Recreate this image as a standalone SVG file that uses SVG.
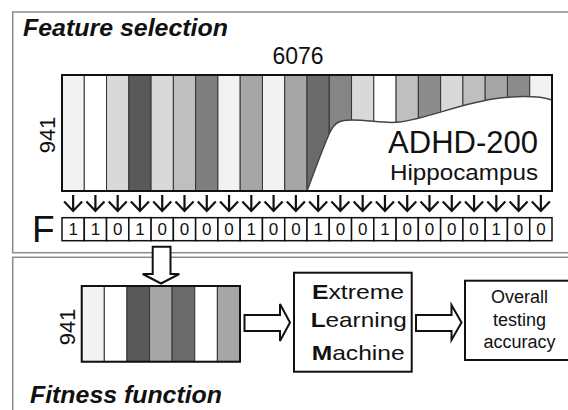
<svg xmlns="http://www.w3.org/2000/svg" width="568" height="410" viewBox="0 0 568 410">
<style>
text{font-family:"Liberation Sans",Arial,sans-serif;fill:#111}
.title{font-weight:bold;font-style:italic;font-size:23px}
.panel{fill:none;stroke:#8a8a8a;stroke-width:1.5}
.col{stroke:#333;stroke-width:1}
.frame{fill:none;stroke:#111;stroke-width:2}
.cell{fill:#fff;stroke:#111;stroke-width:1.5}
.bit{font-size:17px;text-anchor:middle}
.dn{fill:none;stroke:#111;stroke-width:2.2}
.blk{fill:#fff;stroke:#111;stroke-width:2;stroke-linejoin:miter}
.box{fill:#fff;stroke:#111;stroke-width:2}
.elm{font-size:21px}
.acc{font-size:18px;text-anchor:middle}
</style>
<defs>
<path id="dnArrow" class="dn" d="M0,195 V211 M-9,201.5 L0,211 L9,201.5"/>
</defs>
<rect class="panel" x="12.7" y="12" width="570" height="240.7"/>
<rect class="panel" x="12.7" y="257.3" width="570" height="170"/>
<text class="title" x="23" y="36" textLength="205" lengthAdjust="spacingAndGlyphs">Feature selection</text>
<text class="title" x="30" y="403" textLength="192" lengthAdjust="spacingAndGlyphs">Fitness function</text>

<g id="feature-matrix">
<text x="298" y="64" font-size="23" text-anchor="middle">6076</text>
<text transform="translate(55,135) rotate(-90)" font-size="22" text-anchor="middle">941</text>
<rect class="col" x="62" y="75" width="22.27" height="116" fill="#f2f2f2"/>
<rect class="col" x="84.27" y="75" width="22.27" height="116" fill="#ffffff"/>
<rect class="col" x="106.55" y="75" width="22.27" height="116" fill="#d9d9d9"/>
<rect class="col" x="128.82" y="75" width="22.27" height="116" fill="#595959"/>
<rect class="col" x="151.09" y="75" width="22.27" height="116" fill="#d9d9d9"/>
<rect class="col" x="173.36" y="75" width="22.27" height="116" fill="#bfbfbf"/>
<rect class="col" x="195.64" y="75" width="22.27" height="116" fill="#7f7f7f"/>
<rect class="col" x="217.91" y="75" width="22.27" height="116" fill="#f2f2f2"/>
<rect class="col" x="240.18" y="75" width="22.27" height="116" fill="#a6a6a6"/>
<rect class="col" x="262.45" y="75" width="22.27" height="116" fill="#f2f2f2"/>
<rect class="col" x="284.73" y="75" width="22.27" height="116" fill="#a6a6a6"/>
<rect class="col" x="307" y="75" width="22.27" height="116" fill="#6b6b6b"/>
<rect class="col" x="329.27" y="75" width="22.27" height="116" fill="#858585"/>
<rect class="col" x="351.55" y="75" width="22.27" height="116" fill="#d9d9d9"/>
<rect class="col" x="373.82" y="75" width="22.27" height="116" fill="#ffffff"/>
<rect class="col" x="396.09" y="75" width="22.27" height="116" fill="#bfbfbf"/>
<rect class="col" x="418.36" y="75" width="22.27" height="116" fill="#8c8c8c"/>
<rect class="col" x="440.64" y="75" width="22.27" height="116" fill="#d9d9d9"/>
<rect class="col" x="462.91" y="75" width="22.27" height="116" fill="#bfbfbf"/>
<rect class="col" x="485.18" y="75" width="22.27" height="116" fill="#a6a6a6"/>
<rect class="col" x="507.45" y="75" width="22.27" height="116" fill="#8c8c8c"/>
<rect class="col" x="529.73" y="75" width="22.27" height="116" fill="#f2f2f2"/>
<path d="M307,191 C315,170 322,150 330,132 C335,122 340,120 352,120 C370,120 385,124 400,122 C430,118 460,103 500,98 C520,96 540,96 552,100 L552,191 Z" fill="#fff" stroke="none"/>
<path d="M307,191 C315,170 322,150 330,132 C335,122 340,120 352,120 C370,120 385,124 400,122 C430,118 460,103 500,98 C520,96 540,96 552,100" fill="none" stroke="#444" stroke-width="1.5"/>
<rect class="frame" x="62" y="75" width="490" height="116"/>
<text x="538" y="153" font-size="31" text-anchor="end">ADHD-200</text>
<text x="538" y="180" font-size="22" text-anchor="end" textLength="148" lengthAdjust="spacingAndGlyphs">Hippocampus</text>
</g>

<g id="f-vector">
<text x="32" y="242" font-size="37">F</text>
<rect class="cell" x="62" y="217.7" width="22.27" height="23"/>
<rect class="cell" x="84.27" y="217.7" width="22.27" height="23"/>
<rect class="cell" x="106.55" y="217.7" width="22.27" height="23"/>
<rect class="cell" x="128.82" y="217.7" width="22.27" height="23"/>
<rect class="cell" x="151.09" y="217.7" width="22.27" height="23"/>
<rect class="cell" x="173.36" y="217.7" width="22.27" height="23"/>
<rect class="cell" x="195.64" y="217.7" width="22.27" height="23"/>
<rect class="cell" x="217.91" y="217.7" width="22.27" height="23"/>
<rect class="cell" x="240.18" y="217.7" width="22.27" height="23"/>
<rect class="cell" x="262.45" y="217.7" width="22.27" height="23"/>
<rect class="cell" x="284.73" y="217.7" width="22.27" height="23"/>
<rect class="cell" x="307" y="217.7" width="22.27" height="23"/>
<rect class="cell" x="329.27" y="217.7" width="22.27" height="23"/>
<rect class="cell" x="351.55" y="217.7" width="22.27" height="23"/>
<rect class="cell" x="373.82" y="217.7" width="22.27" height="23"/>
<rect class="cell" x="396.09" y="217.7" width="22.27" height="23"/>
<rect class="cell" x="418.36" y="217.7" width="22.27" height="23"/>
<rect class="cell" x="440.64" y="217.7" width="22.27" height="23"/>
<rect class="cell" x="462.91" y="217.7" width="22.27" height="23"/>
<rect class="cell" x="485.18" y="217.7" width="22.27" height="23"/>
<rect class="cell" x="507.45" y="217.7" width="22.27" height="23"/>
<rect class="cell" x="529.73" y="217.7" width="22.27" height="23"/>
<text class="bit" x="73.14" y="235">1</text>
<text class="bit" x="95.41" y="235">1</text>
<text class="bit" x="117.68" y="235">0</text>
<text class="bit" x="139.95" y="235">1</text>
<text class="bit" x="162.23" y="235">0</text>
<text class="bit" x="184.5" y="235">0</text>
<text class="bit" x="206.77" y="235">0</text>
<text class="bit" x="229.05" y="235">0</text>
<text class="bit" x="251.32" y="235">1</text>
<text class="bit" x="273.59" y="235">0</text>
<text class="bit" x="295.86" y="235">0</text>
<text class="bit" x="318.14" y="235">1</text>
<text class="bit" x="340.41" y="235">0</text>
<text class="bit" x="362.68" y="235">0</text>
<text class="bit" x="384.95" y="235">1</text>
<text class="bit" x="407.23" y="235">0</text>
<text class="bit" x="429.5" y="235">0</text>
<text class="bit" x="451.77" y="235">0</text>
<text class="bit" x="474.05" y="235">0</text>
<text class="bit" x="496.32" y="235">1</text>
<text class="bit" x="518.59" y="235">0</text>
<text class="bit" x="540.86" y="235">0</text>
</g>

<g id="selected-matrix">
<text transform="translate(75,327) rotate(-90)" font-size="22" text-anchor="middle">941</text>
<rect class="col" x="81.7" y="286" width="22.61" height="75.7" fill="#f2f2f2"/>
<rect class="col" x="104.31" y="286" width="22.61" height="75.7" fill="#ffffff"/>
<rect class="col" x="126.92" y="286" width="22.61" height="75.7" fill="#595959"/>
<rect class="col" x="149.53" y="286" width="22.61" height="75.7" fill="#a6a6a6"/>
<rect class="col" x="172.14" y="286" width="22.61" height="75.7" fill="#6b6b6b"/>
<rect class="col" x="194.75" y="286" width="22.61" height="75.7" fill="#ffffff"/>
<rect class="col" x="217.36" y="286" width="22.64" height="75.7" fill="#a6a6a6"/>
<rect class="frame" x="81.7" y="286" width="158.3" height="75.7"/>
</g>

<g id="elm">
<rect class="box" x="294" y="272.7" width="117.7" height="99"/>
<text class="elm" x="312" y="299.3" textLength="92" lengthAdjust="spacingAndGlyphs"><tspan font-weight="bold">E</tspan>xtreme</text>
<text class="elm" x="310.7" y="327.3" textLength="96" lengthAdjust="spacingAndGlyphs"><tspan font-weight="bold">L</tspan>earning</text>
<text class="elm" x="311.7" y="360" textLength="93" lengthAdjust="spacingAndGlyphs"><tspan font-weight="bold">M</tspan>achine</text>
</g>

<g id="overall-accuracy">
<rect class="box" x="465" y="280.7" width="110" height="79.3"/>
<text class="acc" x="519.5" y="303.3">Overall</text>
<text class="acc" x="519.5" y="325.5">testing</text>
<text class="acc" x="519.5" y="347.5">accuracy</text>
</g>

<g id="connectors">
<use href="#dnArrow" x="73.14"/>
<use href="#dnArrow" x="95.41"/>
<use href="#dnArrow" x="117.68"/>
<use href="#dnArrow" x="139.95"/>
<use href="#dnArrow" x="162.23"/>
<use href="#dnArrow" x="184.5"/>
<use href="#dnArrow" x="206.77"/>
<use href="#dnArrow" x="229.05"/>
<use href="#dnArrow" x="251.32"/>
<use href="#dnArrow" x="273.59"/>
<use href="#dnArrow" x="295.86"/>
<use href="#dnArrow" x="318.14"/>
<use href="#dnArrow" x="340.41"/>
<use href="#dnArrow" x="362.68"/>
<use href="#dnArrow" x="384.95"/>
<use href="#dnArrow" x="407.23"/>
<use href="#dnArrow" x="429.5"/>
<use href="#dnArrow" x="451.77"/>
<use href="#dnArrow" x="474.05"/>
<use href="#dnArrow" x="496.32"/>
<use href="#dnArrow" x="518.59"/>
<use href="#dnArrow" x="540.86"/>
<polygon class="blk" points="152.7,246.7 170.5,246.7 170.5,274 179.3,274 161,283.5 142.7,274 152.7,274"/>
<polygon class="blk" points="244.5,315 280,315 280,304 290,322.5 280,341 280,331 244.5,331"/>
<polygon class="blk" points="416,315 451.5,315 451.5,305 461.5,322.5 451.5,340 451.5,331 416,331"/>
</g>
</svg>
